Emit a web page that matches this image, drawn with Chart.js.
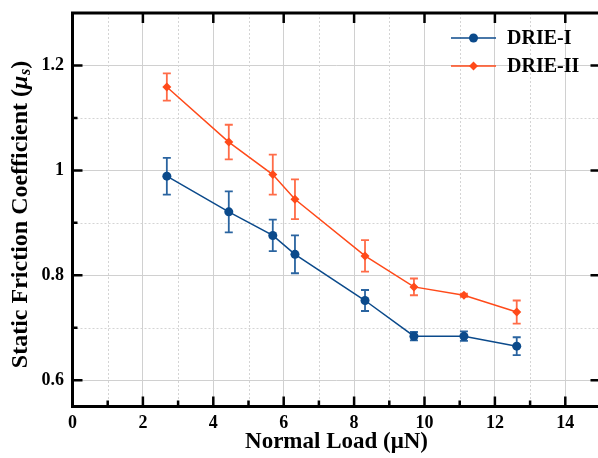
<!DOCTYPE html>
<html>
<head>
<meta charset="utf-8">
<script src="https://cdn.jsdelivr.net/npm/chart.js@4/dist/chart.umd.min.js"></script>
<style>
  html, body { margin: 0; padding: 0; background: #fff; overflow: hidden; width: 598px; height: 458px; }
  #wrap { width: 605px; height: 458px; }
</style>
</head>
<body>
<div id="wrap"><canvas id="c" width="605" height="458" style="width:605px;height:458px"></canvas></div>
<script>
// ---- data ----
const normalLoad = [2.68, 4.44, 5.69, 6.32, 8.31, 9.70, 11.12, 12.62];
const muDRIE1 = [0.989, 0.921, 0.876, 0.840, 0.752, 0.684, 0.684, 0.665];
const errDRIE1 = [0.035, 0.039, 0.030, 0.036, 0.020, 0.008, 0.009, 0.017];
const muDRIE2 = [1.159, 1.054, 0.992, 0.945, 0.837, 0.778, 0.762, 0.730];
const errDRIE2 = [0.026, 0.033, 0.038, 0.038, 0.030, 0.016, 0.003, 0.022];
const seriesNames = ['DRIE-I', 'DRIE-II'];
const xMajorTicks = [0, 2, 4, 6, 8, 10, 12, 14];
const xMinorTicks = [1, 3, 5, 7, 9, 11, 13];
const yMajorTicks = [0.6, 0.8, 1.0, 1.2];
const yTickLabels = ['0.6', '0.8', '1', '1.2'];
const yMinorTicks = [0.7, 0.9, 1.1];
const xRange = [0, 15];
const yRange = [0.55, 1.30];

const SERIF = "'Liberation Serif', 'Times New Roman', serif";
const BLUE = '#0B4A8B';
const ORANGE = '#FF4A1A';
const BLUE_ERR = '#2A64A0';
const ORANGE_ERR = '#FF6C48';

const toPts = (xs, ys) => xs.map((x, i) => ({x: x, y: ys[i]}));

const errorBarPlugin = {
  id: 'errorBars',
  beforeDatasetsDraw(chart) {
    const {ctx, chartArea: a, scales: {x, y}} = chart;
    ctx.save();
    // minor dotted grid
    ctx.strokeStyle = '#d4d4d4';
    ctx.lineWidth = 1;
    ctx.setLineDash([2, 2]);
    xMinorTicks.forEach(v => {
      const px = Math.round(x.getPixelForValue(v)) + 0.5;
      ctx.beginPath(); ctx.moveTo(px, a.top); ctx.lineTo(px, a.bottom); ctx.stroke();
    });
    yMinorTicks.forEach(v => {
      const py = Math.round(y.getPixelForValue(v)) + 0.5;
      ctx.beginPath(); ctx.moveTo(a.left, py); ctx.lineTo(a.right, py); ctx.stroke();
    });
    ctx.setLineDash([]);
    // error bars
    const sets = [[muDRIE1, errDRIE1, BLUE_ERR], [muDRIE2, errDRIE2, ORANGE_ERR]];
    sets.forEach(([ys, es, col]) => {
      ctx.strokeStyle = col;
      ctx.lineWidth = 1.8;
      normalLoad.forEach((xv, i) => {
        const px = x.getPixelForValue(xv);
        const t = y.getPixelForValue(ys[i] + es[i]);
        const b = y.getPixelForValue(ys[i] - es[i]);
        ctx.beginPath();
        ctx.moveTo(px, t); ctx.lineTo(px, b);
        ctx.moveTo(px - 4, t); ctx.lineTo(px + 4, t);
        ctx.moveTo(px - 4, b); ctx.lineTo(px + 4, b);
        ctx.stroke();
      });
    });
    ctx.restore();
  },
  afterDraw(chart) {
    const {ctx, chartArea: a, scales: {x, y}} = chart;
    ctx.save();
    // frame
    ctx.strokeStyle = '#000';
    ctx.lineWidth = 3;
    ctx.strokeRect(a.left, a.top, a.right - a.left, a.bottom - a.top);
    // inward ticks
    ctx.lineWidth = 2.5;
    ctx.beginPath();
    xMajorTicks.forEach(v => {
      const px = x.getPixelForValue(v);
      ctx.moveTo(px, a.bottom); ctx.lineTo(px, a.bottom - 10);
      ctx.moveTo(px, a.top); ctx.lineTo(px, a.top + 10);
    });
    xMinorTicks.forEach(v => {
      const px = x.getPixelForValue(v);
      ctx.moveTo(px, a.bottom); ctx.lineTo(px, a.bottom - 6);
    });
    yMajorTicks.forEach(v => {
      const py = y.getPixelForValue(v);
      ctx.moveTo(a.left, py); ctx.lineTo(a.left + 10, py);
      ctx.moveTo(a.right, py); ctx.lineTo(a.right - 10, py);
    });
    yMinorTicks.forEach(v => {
      const py = y.getPixelForValue(v);
      ctx.moveTo(a.left, py); ctx.lineTo(a.left + 5, py);
    });
    ctx.stroke();

    // legend
    const ds = chart.data.datasets;
    const legendRows = [38, 66];
    ds.forEach((d, i) => {
      const ly = legendRows[i];
      ctx.strokeStyle = d.borderColor;
      ctx.lineWidth = 1.5;
      ctx.beginPath(); ctx.moveTo(451, ly); ctx.lineTo(496, ly); ctx.stroke();
      ctx.fillStyle = d.backgroundColor;
      ctx.beginPath();
      if (d.pointStyle === 'circle') {
        ctx.arc(473.5, ly, d.pointRadius, 0, Math.PI * 2);
      } else {
        const r = d.pointRadius;
        ctx.moveTo(473.5, ly - r); ctx.lineTo(473.5 + r, ly);
        ctx.lineTo(473.5, ly + r); ctx.lineTo(473.5 - r, ly); ctx.closePath();
      }
      ctx.fill();
      ctx.fillStyle = '#000';
      ctx.font = 'bold 20px ' + SERIF;
      ctx.textBaseline = 'middle';
      ctx.textAlign = 'left';
      ctx.fillText(d.label, 507, ly + 1);
    });

    // y axis title with italic mu and subscript s
    ctx.translate(21, (a.top + a.bottom) / 2 + 5);
    ctx.rotate(-Math.PI / 2);
    ctx.fillStyle = '#000';
    ctx.textBaseline = 'middle';
    ctx.textAlign = 'left';
    const parts = [
      {t: 'Static Friction Coefficient (', f: 'bold 24px ' + SERIF, dy: 0},
      {t: 'μ', f: 'italic bold 24px ' + SERIF, dy: 0},
      {t: 's', f: 'italic bold 16px ' + SERIF, dy: 5},
      {t: ')', f: 'bold 24px ' + SERIF, dy: 0}
    ];
    let total = 0;
    parts.forEach(p => { ctx.font = p.f; p.w = ctx.measureText(p.t).width; total += p.w; });
    let cx = -total / 2;
    parts.forEach(p => { ctx.font = p.f; ctx.fillText(p.t, cx, p.dy); cx += p.w + (p.t === 'μ' ? 0.5 : 0); });
    ctx.restore();
  }
};

new Chart(document.getElementById('c'), {
  type: 'line',
  data: {
    datasets: [
      {
        label: seriesNames[0],
        data: toPts(normalLoad, muDRIE1),
        borderColor: BLUE, backgroundColor: BLUE,
        borderWidth: 1.5, pointStyle: 'circle', pointRadius: 4.5,
        pointBorderWidth: 0, tension: 0
      },
      {
        label: seriesNames[1],
        data: toPts(normalLoad, muDRIE2),
        borderColor: ORANGE, backgroundColor: ORANGE,
        borderWidth: 1.5, pointStyle: 'rectRot', pointRadius: 4.5,
        pointBorderWidth: 0, tension: 0
      }
    ]
  },
  options: {
    responsive: false,
    animation: false,
    devicePixelRatio: 1,
    layout: { padding: { top: 13, right: 3.5, left: 0, bottom: 0 } },
    plugins: { legend: { display: false }, tooltip: { enabled: false } },
    scales: {
      x: {
        type: 'linear', min: xRange[0], max: xRange[1],
        afterBuildTicks: s => { s.ticks = xMajorTicks.map(v => ({value: v})); },
        afterFit: s => { s.height = 51.5; s.paddingLeft = 0; s.paddingRight = 0; },
        grid: { color: '#d0d0d0', lineWidth: 1, drawTicks: false },
        border: { display: false },
        ticks: {
          padding: 6, color: '#000', maxRotation: 0, autoSkip: false,
          font: { family: SERIF, size: 18, weight: 'bold' },
          callback: v => String(v)
        },
        title: {
          display: true, text: 'Normal Load (μN)', color: '#000',
          font: { family: SERIF, size: 23, weight: 'bold' },
          padding: { top: 0, bottom: 2 }
        }
      },
      y: {
        type: 'linear', min: yRange[0], max: yRange[1],
        afterBuildTicks: s => { s.ticks = yMajorTicks.map(v => ({value: v})); },
        afterFit: s => { s.width = 72.5; s.paddingTop = 0; s.paddingBottom = 0; },
        grid: { color: '#d0d0d0', lineWidth: 1, drawTicks: false },
        border: { display: false },
        ticks: {
          padding: 8.5, color: '#000', autoSkip: false,
          font: { family: SERIF, size: 18, weight: 'bold' },
          callback: (v, i) => yTickLabels[i]
        }
      }
    }
  },
  plugins: [errorBarPlugin]
});
</script>
</body>
</html>
